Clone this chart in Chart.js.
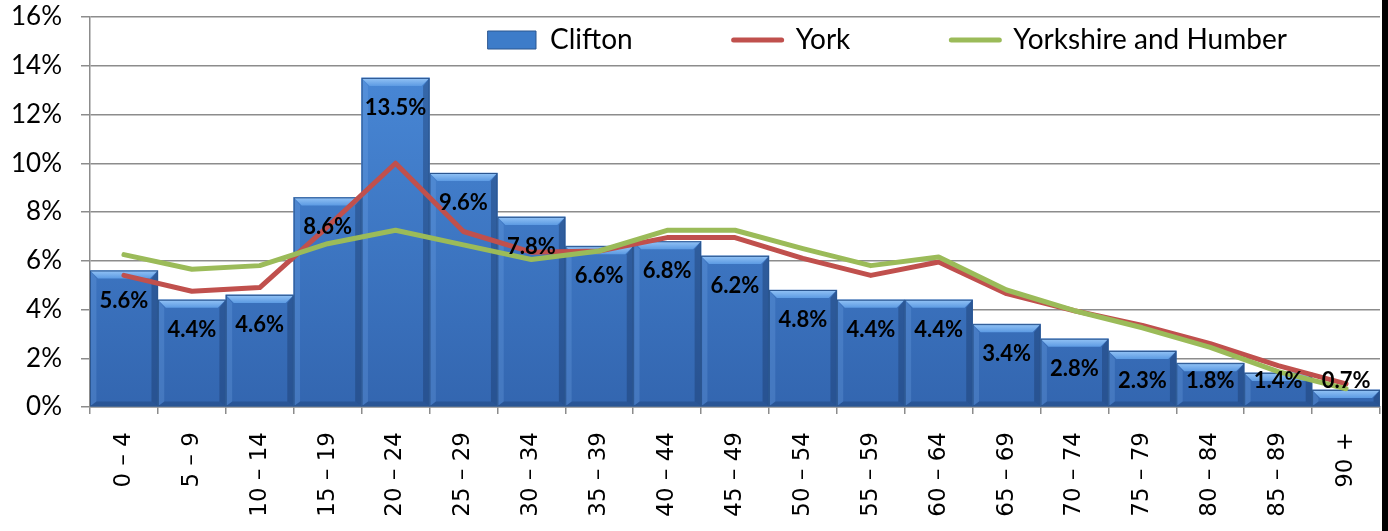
<!DOCTYPE html>
<html>
<head>
<meta charset="utf-8">
<script src="https://cdn.jsdelivr.net/npm/chart.js@4/dist/chart.umd.min.js"></script>
<style>
  html, body { margin: 0; padding: 0; background: #fff; }
  #wrap { width: 1382px; height: 531px; border-right: 6px solid #000; }
</style>
</head>
<body>
<div id="wrap"><canvas id="ageChart" width="1382" height="531"></canvas></div>
<script>
const ageBands = ['0 – 4', '5 – 9', '10 – 14', '15 – 19', '20 – 24', '25 – 29', '30 – 34', '35 – 39', '40 – 44',
    '45 – 49', '50 – 54', '55 – 59', '60 – 64', '65 – 69', '70 – 74', '75 – 79', '80 – 84', '85 – 89', '90 +'];
const clifton = [5.6, 4.4, 4.6, 8.6, 13.5, 9.6, 7.8, 6.6, 6.8, 6.2, 4.8, 4.4, 4.4, 3.4, 2.8, 2.3, 1.8, 1.4, 0.7];
const york = [5.4, 4.75, 4.9, 7.4, 10.0, 7.2, 6.35, 6.4, 6.95, 6.95, 6.1, 5.4, 5.95, 4.65, 3.95, 3.35, 2.6, 1.7, 0.95];
const yorkshire = [6.25, 5.65, 5.8, 6.7, 7.25, 6.65, 6.05, 6.4, 7.25, 7.25, 6.5, 5.8, 6.15, 4.8, 3.95, 3.25, 2.45, 1.45, 0.75];
const yTicks = [0, 2, 4, 6, 8, 10, 12, 14, 16];

const BLUE = '#3d7cc9';
const BLUE_EDGE = '#2b5690';
const RED = '#c0504d';
const GREEN = '#9bbb59';

function barFill(ctx) {
    const area = ctx.chart.chartArea;
    if (!area) return BLUE;
    const g = ctx.chart.ctx.createLinearGradient(0, area.top, 0, area.bottom);
    g.addColorStop(0, '#4b8cdb');
    g.addColorStop(1, '#3366b0');
    return g;
}

// bevel look on the bars, drawn from the bar elements
const bevel = {
    id: 'bevel',
    afterDatasetDraw(chart, args) {
        if (args.index !== 0) return;
        const c = chart.ctx;
        c.save();
        args.meta.data.forEach((bar) => {
            const l = bar.x - bar.width / 2, r = bar.x + bar.width / 2;
            const t = bar.y, b = bar.base;
            const s = Math.min(8, (b - t) / 2);
            const g = c.createLinearGradient(0, t, 0, t + s);
            g.addColorStop(0, '#94c4f6');
            g.addColorStop(1, '#5d9be3');
            c.fillStyle = g;
            c.beginPath();
            c.moveTo(l, t); c.lineTo(r, t); c.lineTo(r - s, t + s); c.lineTo(l + s, t + s); c.closePath();
            c.fill();
            c.fillStyle = 'rgba(20,45,90,0.35)';
            c.beginPath();
            c.moveTo(r, t); c.lineTo(r, b); c.lineTo(r - s * 0.8, b - s * 0.6); c.lineTo(r - s * 0.8, t + s); c.closePath();
            c.fill();
            c.fillStyle = 'rgba(20,45,90,0.3)';
            c.beginPath();
            c.moveTo(l, b); c.lineTo(r, b); c.lineTo(r - s * 0.8, b - s * 0.6); c.lineTo(l + s * 0.8, b - s * 0.6); c.closePath();
            c.fill();
            c.fillStyle = 'rgba(120,170,235,0.25)';
            c.beginPath();
            c.moveTo(l, t); c.lineTo(l + s * 0.8, t + s); c.lineTo(l + s * 0.8, b - s * 0.6); c.lineTo(l, b); c.closePath();
            c.fill();
            c.strokeStyle = BLUE_EDGE;
            c.lineWidth = 1;
            c.strokeRect(l + 0.5, t + 0.5, r - l - 1, b - t - 1);
        });
        c.restore();
    }
};

// value labels inside the top of each bar
const barLabels = {
    id: 'barLabels',
    afterDatasetsDraw(chart) {
        const meta = chart.getDatasetMeta(0);
        const c = chart.ctx;
        c.save();
        c.font = 'bold 22px Lato';
        c.fillStyle = '#000';
        c.textAlign = 'center';
        c.textBaseline = 'middle';
        meta.data.forEach((bar, i) => {
            const y = Math.min(bar.y + 30, bar.base - 25);
            c.fillText(clifton[i].toFixed(1) + '%', bar.x, y);
        });
        c.restore();
    }
};

// legend sits inside the plot, takes no room of its own
const legendInside = {
    id: 'legendInside',
    beforeLayout(chart) {
        const lg = chart.legend;
        if (!lg || lg._patched) return;
        const fit = lg.fit;
        lg.fit = function () { fit.call(this); this.height = 0; };
        lg._patched = true;
    },
    afterLayout(chart) {
        const lg = chart.legend;
        const pad = lg.options.labels.padding;
        lg.left = 488 - pad;
        lg.right = lg.left + 1300;
        lg.width = lg.right - lg.left;
        lg.top = 26 - pad;
        lg.bottom = 62;
        lg.height = lg.bottom - lg.top;
    }
};

new Chart(document.getElementById('ageChart'), {
    data: {
        labels: ageBands,
        datasets: [
            { type: 'bar', label: 'Clifton', data: clifton, order: 3,
              backgroundColor: barFill, borderColor: BLUE_EDGE, borderWidth: 0,
              barPercentage: 1, categoryPercentage: 1 },
            { type: 'line', label: 'York', data: york, order: 2,
              borderColor: RED, backgroundColor: RED, borderWidth: 5, pointRadius: 0,
              tension: 0, borderJoinStyle: 'round', borderCapStyle: 'round' },
            { type: 'line', label: 'Yorkshire and Humber', data: yorkshire, order: 1,
              borderColor: GREEN, backgroundColor: GREEN, borderWidth: 5, pointRadius: 0,
              tension: 0, borderJoinStyle: 'round', borderCapStyle: 'round' }
        ]
    },
    options: {
        responsive: false,
        animation: false,
        layout: { padding: { top: 17, right: 2, left: 0, bottom: 0 } },
        plugins: {
            tooltip: { enabled: false },
            legend: {
                position: 'top',
                align: 'start',
                labels: {
                    usePointStyle: true,
                    pointStyleWidth: 48,
                    boxHeight: 18,
                    padding: 101,
                    color: '#000',
                    font: { family: 'Lato', size: 28 },
                    sort: (a, b) => a.datasetIndex - b.datasetIndex,
                    generateLabels(chart) {
                        return chart.data.datasets.map((ds, i) => ({
                            text: ds.label,
                            datasetIndex: i,
                            fillStyle: ds.type === 'bar' ? BLUE : ds.borderColor,
                            strokeStyle: ds.type === 'bar' ? BLUE_EDGE : ds.borderColor,
                            lineWidth: ds.type === 'bar' ? 1 : 5,
                            lineCap: 'round',
                            pointStyle: ds.type === 'bar' ? 'rect' : 'line',
                            hidden: false
                        }));
                    }
                }
            }
        },
        scales: {
            x: {
                grid: { offset: true, drawOnChartArea: false, tickLength: 7, color: '#8c8c8c', lineWidth: 1.5 },
                border: { color: '#8c8c8c', width: 1.5 },
                ticks: { autoSkip: false, minRotation: 90, maxRotation: 90, padding: 18,
                         color: '#000', font: { family: 'DejaVu Sans', size: 23 } },
                afterFit(scale) {
                    scale.height = 124;
                    scale.paddingLeft = 0;
                    scale.paddingRight = 0;
                }
            },
            y: {
                min: 0, max: 16,
                afterBuildTicks(scale) { scale.ticks = yTicks.map((v) => ({ value: v })); },
                grid: { color: '#8c8c8c', lineWidth: 1.5, tickLength: 9 },
                border: { color: '#8c8c8c', width: 1.5 },
                ticks: { padding: 19, color: '#000', font: { family: 'Lato', size: 26 },
                         callback: (v) => v + '%' },
                afterFit(scale) {
                    scale.width = 90;
                    scale.paddingTop = 0;
                    scale.paddingBottom = 0;
                }
            }
        }
    },
    plugins: [bevel, barLabels, legendInside]
});
</script>
</body>
</html>
